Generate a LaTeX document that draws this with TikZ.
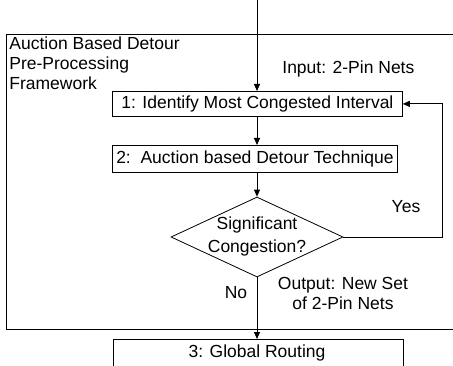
\documentclass[tikz,border=0pt]{standalone}
\usepackage{fontspec}
\setmainfont{Liberation Sans}
\usetikzlibrary{arrows.meta,shapes.geometric}
\begin{document}
\begin{tikzpicture}[x=1pt,y=1pt,
  line width=0.8pt,
  every node/.style={font=\fontsize{17.5}{20}\selectfont, inner sep=0pt},
  arr/.style={-{Triangle[length=7pt,width=6pt]}},
  stepbox/.style={draw, minimum height=25pt, anchor=north west}]
\useasboundingbox (0,0) rectangle (453,365);
\clip (0,0) rectangle (453,365);

% outer framework
\draw (6,36) rectangle (470,331);
\node[align=left, anchor=north west] (title) at (9,329)
  {Auction Based Detour\\Pre-Processing\\Framework};

% process steps
\node[stepbox, minimum width=290pt] (s1) at (112,274) {1: Identify Most Congested Interval};
\node[stepbox, minimum width=285pt, minimum height=27pt] (s2) at (112,220) {2:\ \ Auction based Detour Technique};
\node[draw, diamond, minimum width=172pt, minimum height=80pt] (d) at (257,128) {};
\node[align=center, font=\fontsize{17.5}{23}\selectfont] (dt) at (257,129) {Significant\\Congestion?};
\node[stepbox, minimum width=290pt, minimum height=40pt] (s3) at (113,26) {};
\node (s3t) at (257,12) {3: Global Routing};

% labels
\node[anchor=west] (in) at (282,296) {Input: 2-Pin Nets};
\node (yes) at (406,158) {Yes};
\node (no) at (236,72) {No};
\node[align=center] (out) at (343,72) {Output: New Set\\of 2-Pin Nets};

% connectors
\coordinate (top) at (257,365);
\coordinate (loop) at (442,128);
\draw[arr] (top) -- (s1.north -| top);
\draw[arr] (s1.south -| top) -- (s2.north -| top);
\draw[arr] (s2.south -| top) -- (d.north);
\draw[arr] (d.east) -- (loop) |- (s1.east);
\draw[arr] (d.south) -- (s3.north -| d.south);
\end{tikzpicture}
\end{document}
